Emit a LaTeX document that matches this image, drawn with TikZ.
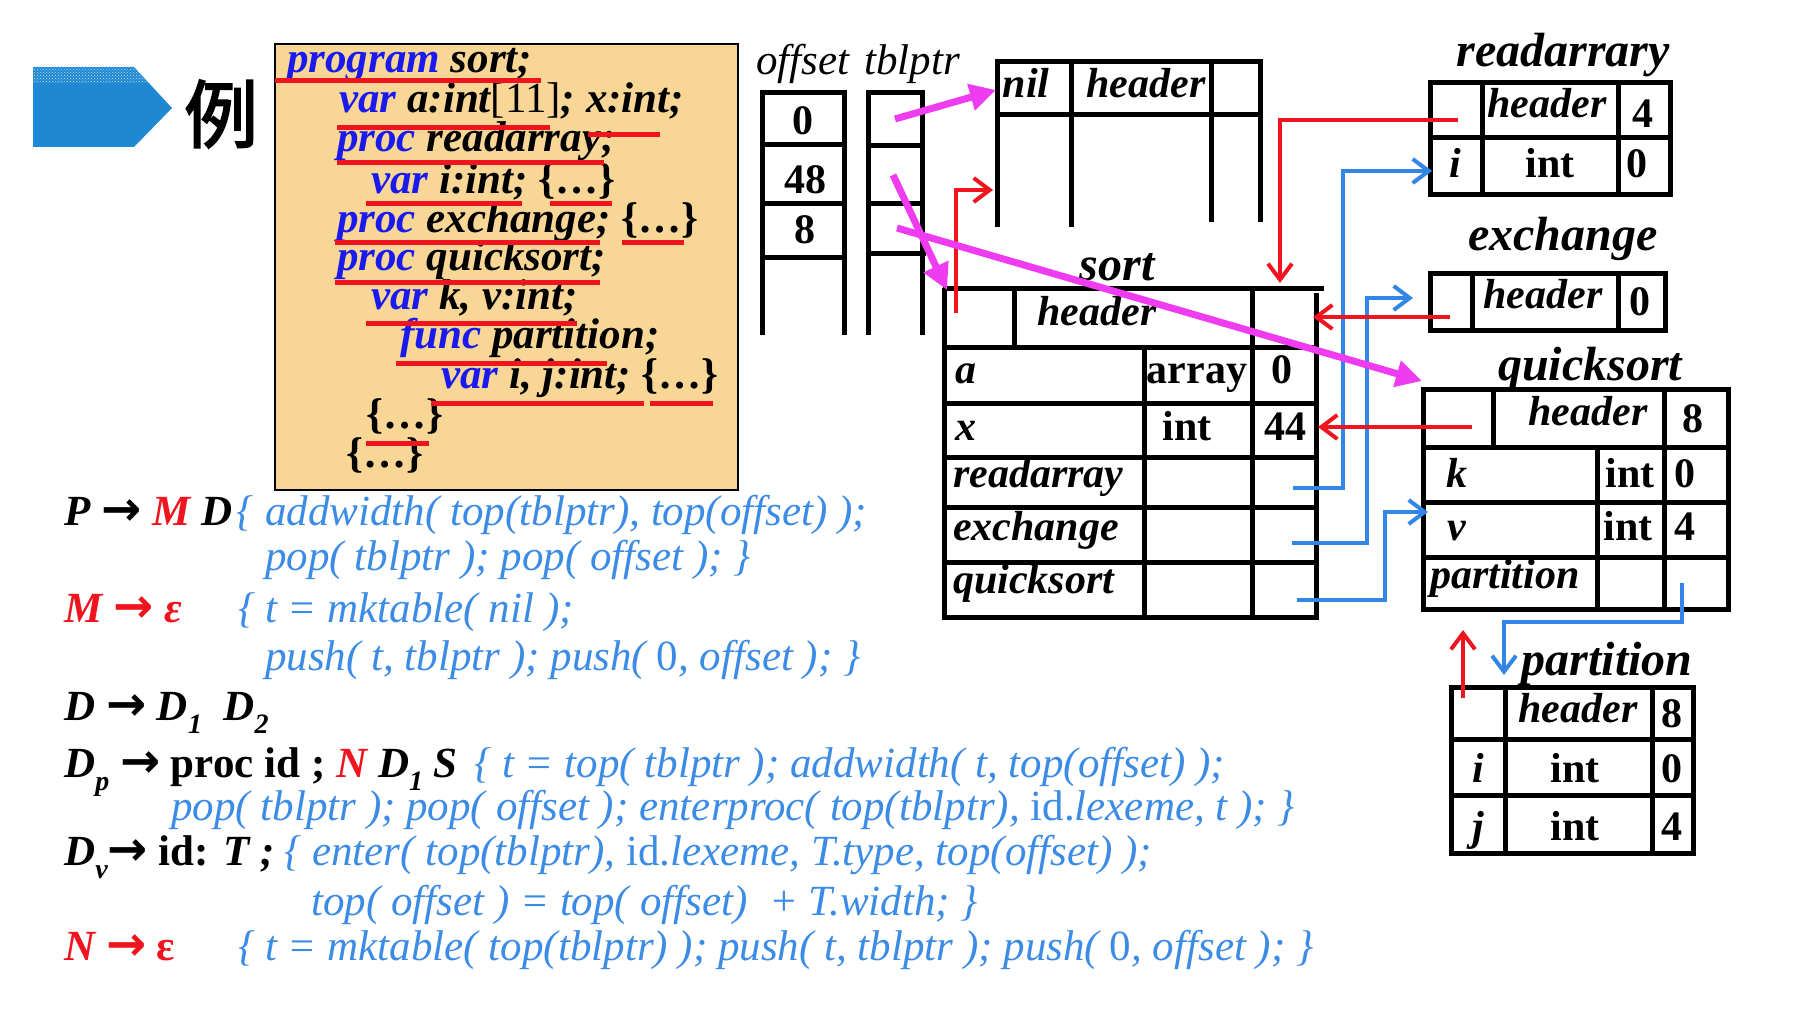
\documentclass[tikz,border=0pt]{standalone}
\usepackage{fontspec}
\setmainfont{Liberation Serif}
\newfontfamily\cjkfont[FakeBold=2.5]{Noto Sans CJK SC}
\newfontfamily\arrowfont{DejaVu Sans}
\usetikzlibrary{arrows.meta,patterns}
\definecolor{kwblue}{RGB}{25,25,240}
\definecolor{redc}{RGB}{240,20,30}
\definecolor{semblue}{RGB}{60,140,230}
\definecolor{connblue}{RGB}{50,135,230}
\definecolor{mag}{RGB}{240,60,240}
\definecolor{boxfill}{RGB}{248,214,150}
\definecolor{arrowblue}{RGB}{30,136,210}
\newcommand{\codefont}{\fontsize{43}{43}\selectfont\bfseries\itshape}
\newcommand{\cellfont}{\fontsize{42}{42}\selectfont\bfseries}
\newcommand{\cellit}{\fontsize{42}{42}\selectfont\bfseries\itshape}
\newcommand{\titlefont}{\fontsize{48}{48}\selectfont\bfseries\itshape}
\newcommand{\stackfont}{\fontsize{43}{43}\selectfont\itshape}
\newcommand{\semfont}{\fontsize{43}{43}\selectfont\itshape}
\newcommand{\lhsfont}{\fontsize{43}{43}\selectfont\bfseries\itshape}
\newcommand{\dsub}[1]{\raisebox{-0.32em}{\fontsize{28}{28}\selectfont #1}}
\newcommand{\arr}{{\fontsize{48}{48}\selectfont\arrowfont\bfseries\upshape →}}
\begin{document}
\begin{tikzpicture}[x=1pt,y=-1pt,
  tl/.style={line width=5pt},
  lbl/.style={inner sep=0pt,anchor=base},
  lblw/.style={inner sep=0pt,anchor=base west},
  uline/.style={redc,line width=5pt},
  bconn/.style={connblue,line width=4pt,-{Straight Barb[length=16pt,width=24pt]}},
  rconn/.style={redc,line width=4pt,-{Straight Barb[length=16pt,width=24pt]}},
  mconn/.style={mag,line width=7pt,-{Triangle[length=26pt,width=26pt]}}]
\useasboundingbox (0,0) rectangle (1820,1022);
\fill[white] (0,0) rectangle (1820,1022);

% ---------- title arrow and character ----------
\fill[arrowblue] (33,67) -- (134,67) -- (172,108) -- (134,147) -- (33,147) -- cycle;
\fill[pattern=crosshatch dots,pattern color=white!75!arrowblue] (33,67) -- (134,67) -- (149,83) -- (33,83) -- cycle;
\node[inner sep=0pt] (li) at (221,114) {\fontsize{74}{74}\selectfont\cjkfont 例};

% ---------- code box ----------
\draw[line width=1.5pt,fill=boxfill] (275,44) rectangle (738,490);
\node[lblw,font=\codefont] (c1) at (287,73) {{\color{kwblue}program} sort;};
\node[lblw,font=\codefont] (c2) at (339,113) {{\color{kwblue}var} a:int{\upshape\mdseries[11]}; x:int;};
\node[lblw,font=\codefont] (c3) at (337,152) {{\color{kwblue}proc} readarray;};
\node[lblw,font=\codefont] (c4) at (371,193) {{\color{kwblue}var} i:int; {\upshape\{…\}}};
\node[lblw,font=\codefont] (c5) at (337,232) {{\color{kwblue}proc} exchange; {\upshape\{…\}}};
\node[lblw,font=\codefont] (c6) at (337,270) {{\color{kwblue}proc} quicksort;};
\node[lblw,font=\codefont] (c7) at (371,309) {{\color{kwblue}var} k, v:int;};
\node[lblw,font=\codefont] (c8) at (400,348) {{\color{kwblue}func} partition;};
\node[lblw,font=\codefont] (c9) at (441,388) {{\color{kwblue}var} i, j:int; {\upshape\{…\}}};
\node[lblw,font=\codefont] (c10) at (366,428) {\upshape\{…\}};
\node[lblw,font=\codefont] (c11) at (346,467) {\upshape\{…\}};
\draw[uline] (275,81) -- (541,81);
\draw[uline] (337,128) -- (550,128);
\draw[uline] (588,135) -- (660,135);
\draw[uline] (337,162) -- (604,162);
\draw[uline] (366,203) -- (522,203);
\draw[uline] (550,203) -- (612,203);
\draw[uline] (335,242) -- (600,242);
\draw[uline] (622,242) -- (684,242);
\draw[uline] (335,282) -- (600,282);
\draw[uline] (366,323) -- (577,323);
\draw[uline] (396,363) -- (607,363);
\draw[uline] (431,403) -- (644,403);
\draw[uline] (650,403) -- (713,403);
\draw[uline] (366,443) -- (429,443);

% ---------- offset / tblptr stacks ----------
\node[lbl,font=\stackfont] (offl) at (803,75) {offset};
\node[lbl,font=\stackfont] (tbll) at (912,75) {tblptr};
\draw[tl] (762,335) -- (762,93) -- (844,93) -- (844,335);
\draw[tl] (762,145) -- (844,145) (762,203) -- (844,203) (762,257) -- (844,257);
\node[lbl,font=\cellfont] (o0) at (803,135) {0};
\node[lbl,font=\cellfont] (o48) at (805,193) {48};
\node[lbl,font=\cellfont] (o8) at (805,243) {8};
\draw[tl] (868,335) -- (868,93) -- (922,93) -- (922,335);
\draw[tl] (868,146) -- (922,146) (868,203) -- (922,203) (868,253) -- (926,253);

% ---------- nil table ----------
\draw[tl] (997,227) -- (997,62) -- (1260,62) -- (1260,222);
\draw[tl] (997,115) -- (1260,115);
\draw[tl] (1071,62) -- (1071,227) (1211,62) -- (1211,222);
\node[lbl,font=\cellit] (niln) at (1026,98) {nil};
\node[lbl,font=\cellit] (nilh) at (1146,98) {header};

% ---------- sort table ----------
\node[lbl,font=\titlefont] (sortt) at (1117,280) {sort};
\draw[tl] (943,288) -- (1324,288);
\draw[tl] (944,288) -- (944,620) (1316,293) -- (1316,620);
\draw[tl] (1014,288) -- (1014,347) (1252,288) -- (1252,617) (1144,347) -- (1144,617);
\foreach \yy in {347,403,457,507,562,617} \draw[tl] (944,\yy) -- (1316,\yy);
\node[lbl,font=\cellit] (sh) at (1097,325) {header};
\node[lblw,font=\cellit] (sa) at (955,383) {a};
\node[lbl,font=\cellfont] (sat) at (1197,383) {array};
\node[lbl,font=\cellfont] (sao) at (1282,383) {0};
\node[lblw,font=\cellit] (sx) at (955,440) {x};
\node[lbl,font=\cellfont] (sxt) at (1187,440) {int};
\node[lbl,font=\cellfont] (sxo) at (1285,440) {44};
\node[lblw,font=\cellit] (sr) at (953,487) {readarray};
\node[lblw,font=\cellit] (se) at (953,540) {exchange};
\node[lblw,font=\cellit] (sq) at (953,593) {quicksort};

% ---------- readarray table ----------
\node[lbl,font=\titlefont] (rt) at (1563,67) {readarrary};
\draw[tl] (1430,83) rectangle (1670,194);
\draw[tl] (1430,138) -- (1670,138) (1482,83) -- (1482,194) (1618,83) -- (1618,194);
\node[lbl,font=\cellit] (rh) at (1547,118) {header};
\node[lbl,font=\cellfont] (r4) at (1643,128) {4};
\node[lbl,font=\cellit] (ri) at (1455,177) {i};
\node[lbl,font=\cellfont] (rint) at (1550,177) {int};
\node[lbl,font=\cellfont] (r0) at (1637,177) {0};

% ---------- exchange table ----------
\node[lbl,font=\titlefont] (et) at (1563,250) {exchange};
\draw[tl] (1430,273) rectangle (1665,330);
\draw[tl] (1472,273) -- (1472,330) (1618,273) -- (1618,330);
\node[lbl,font=\cellit] (eh) at (1543,308) {header};
\node[lbl,font=\cellfont] (e0) at (1640,315) {0};

% ---------- quicksort table ----------
\node[lbl,font=\titlefont] (qt) at (1590,380) {quicksort};
\draw[tl] (1423,389) rectangle (1728,609);
\foreach \yy in {447,502,557} \draw[tl] (1423,\yy) -- (1728,\yy);
\draw[tl] (1493,389) -- (1493,447) (1664,389) -- (1664,609) (1597,447) -- (1597,609);
\node[lbl,font=\cellit] (qh) at (1588,425) {header};
\node[lbl,font=\cellfont] (q8) at (1693,432) {8};
\node[lbl,font=\cellit] (qk) at (1457,487) {k};
\node[lbl,font=\cellfont] (qki) at (1630,487) {int};
\node[lbl,font=\cellfont] (qk0) at (1685,487) {0};
\node[lbl,font=\cellit] (qv) at (1457,540) {v};
\node[lbl,font=\cellfont] (qvi) at (1628,540) {int};
\node[lbl,font=\cellfont] (qv4) at (1685,540) {4};
\node[lblw,font=\cellit] (qp) at (1430,588) {partition};

% ---------- partition table ----------
\node[lbl,font=\titlefont] (pt) at (1607,675) {partition};
\draw[tl] (1451,687) rectangle (1693,853);
\draw[tl] (1451,739) -- (1693,739) (1451,795) -- (1693,795);
\draw[tl] (1505,687) -- (1505,853) (1652,687) -- (1652,853);
\node[lbl,font=\cellit] (ph) at (1578,722) {header};
\node[lbl,font=\cellfont] (p8) at (1672,727) {8};
\node[lbl,font=\cellit] (pi) at (1478,782) {i};
\node[lbl,font=\cellfont] (pii) at (1575,782) {int};
\node[lbl,font=\cellfont] (pi0) at (1672,782) {0};
\node[lbl,font=\cellit] (pj) at (1478,840) {j};
\node[lbl,font=\cellfont] (pji) at (1575,840) {int};
\node[lbl,font=\cellfont] (pj4) at (1672,840) {4};

% ---------- connector end points ----------
\coordinate (b1s) at (1293,488); \coordinate (b1c) at (1343,171); \coordinate (b1e) at (1432,171);
\coordinate (b2s) at (1292,543); \coordinate (b2c) at (1367,298); \coordinate (b2e) at (1413,298);
\coordinate (b3s) at (1297,600); \coordinate (b3c) at (1385,512); \coordinate (b3e) at (1428,512);
\coordinate (b4s) at (1682,583); \coordinate (b4c) at (1504,622); \coordinate (b4e) at (1504,675);
\coordinate (r1s) at (1458,120); \coordinate (r1c) at (1280,120); \coordinate (r1e) at (1280,283);
\coordinate (r2s) at (1450,317); \coordinate (r2e) at (1313,317);
\coordinate (r3s) at (1472,427); \coordinate (r3e) at (1318,427);
\coordinate (r4s) at (1463,698); \coordinate (r4e) at (1463,630);
\coordinate (r5s) at (956,313); \coordinate (r5c) at (956,190); \coordinate (r5e) at (993,190);
\coordinate (m1s) at (895,119); \coordinate (m1e) at (996,90);
\coordinate (m2s) at (893,175); \coordinate (m2e) at (947,290);
\coordinate (m3s) at (897,228); \coordinate (m3e) at (1422,381);

\draw[bconn] (b1s) -| (b1c) -- (b1e);
\draw[bconn] (b2s) -| (b2c) -- (b2e);
\draw[bconn] (b3s) -| (b3c) -- (b3e);
\draw[bconn] (b4s) |- (b4c) -- (b4e);
\draw[rconn] (r1s) -- (r1c) -- (r1e);
\draw[rconn] (r2s) -- (r2e);
\draw[rconn] (r3s) -- (r3e);
\draw[rconn] (r4s) -- (r4e);
\draw[rconn] (r5s) -- (r5c) -- (r5e);
\draw[mconn] (m1s) -- (m1e);
\draw[mconn] (m2s) -- (m2e);
\draw[mconn] (m3s) -- (m3e);

% ---------- translation scheme ----------
\node[lblw,font=\lhsfont] (g1a) at (64,525) {P \arr{} {\color{redc}M} D};
\node[lblw,font=\semfont,text=semblue] (g1b) at (236,525) {\{};
\node[lblw,font=\semfont,text=semblue] (g1c) at (265,525) {addwidth( top(tblptr), top(offset) );};
\node[lblw,font=\semfont,text=semblue] (g2) at (265,570) {pop( tblptr ); pop( offset ); \}};
\node[lblw,font=\lhsfont,text=redc] (g3a) at (64,622) {M \arr{} ε};
\node[lblw,font=\semfont,text=semblue] (g3b) at (238,622) {\{};
\node[lblw,font=\semfont,text=semblue] (g3c) at (265,622) {t = mktable( nil );};
\node[lblw,font=\semfont,text=semblue] (g4) at (265,670) {push( t, tblptr ); push( {\upshape 0}, offset ); \}};
\node[lblw,font=\lhsfont] (g5) at (64,720) {D \arr{} D\dsub{1} \ D\dsub{2}};
\node[lblw,font=\lhsfont] (g6a) at (64,777) {D\dsub{p} \arr{} {\upshape proc id ;} {\color{redc}N} D\dsub{1} S};
\node[lblw,font=\semfont,text=semblue] (g6b) at (474,777) {\{ t = top( tblptr ); addwidth( t, top(offset) );};
\node[lblw,font=\semfont,text=semblue] (g7) at (171,820) {pop( tblptr ); pop( offset ); enterproc( top(tblptr), {\upshape id.}lexeme, t ); \}};
\node[lblw,font=\lhsfont] (g8a) at (64,865) {D\dsub{v}\arr{} {\upshape id:} T ;};
\node[lblw,font=\semfont,text=semblue] (g8b) at (284,865) {\{ enter( top(tblptr), {\upshape id.}lexeme, T.type, top(offset) );};
\node[lblw,font=\semfont,text=semblue] (g9) at (311,915) {top( offset ) = top( offset)\ \ + T.width; \}};
\node[lblw,font=\lhsfont,text=redc] (g10a) at (64,960) {N \arr{} {\upshape ε}};
\node[lblw,font=\semfont,text=semblue] (g10b) at (238,960) {\{};
\node[lblw,font=\semfont,text=semblue] (g10c) at (265,960) {t = mktable( top(tblptr) ); push( t, tblptr ); push( {\upshape 0}, offset ); \}};
\end{tikzpicture}
\end{document}
